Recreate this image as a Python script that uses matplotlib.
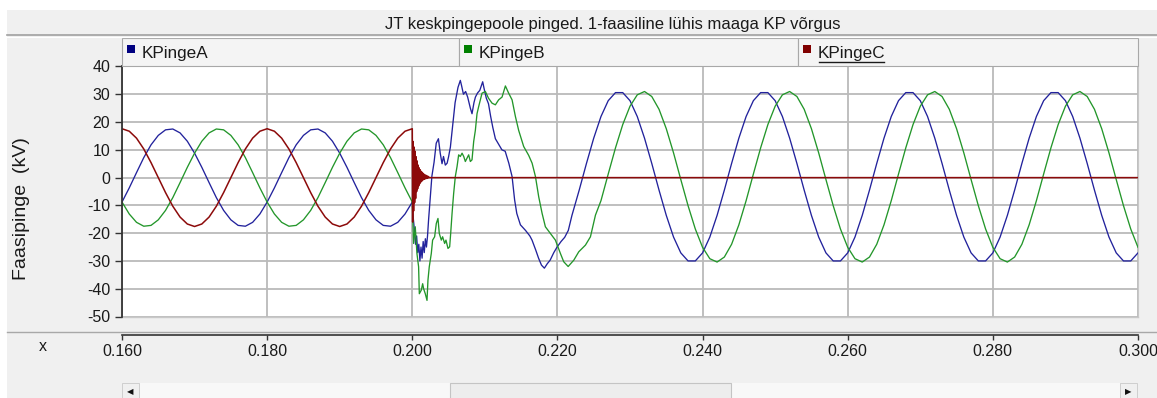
import numpy as np
import matplotlib.pyplot as plt
from matplotlib.patches import Rectangle
from matplotlib.lines import Line2D

plt.rcParams['font.family'] = ['Liberation Sans', 'DejaVu Sans']
plt.rcParams['axes.unicode_minus'] = False

# ---- data (time in ms, voltage in kV) ----
series_names = ["KPingeA", "KPingeB", "KPingeC"]
series_colors = ["#22229c", "#23962a", "#8c0a0a"]
legend_colors = ["#000080", "#008000", "#800000"]

title = "JT keskpingepoole pinged. 1-faasiline lühis maaga KP võrgus"
y_label = "Faasipinge  (kV)"
y_ticks = [-50, -40, -30, -20, -10, 0, 10, 20, 30, 40]
x_ticks = [0.160, 0.180, 0.200, 0.220, 0.240, 0.260, 0.280, 0.300]

# before the fault, 1 ms samples 160..199 ms
t_pre = np.arange(160, 200)
pre_A = [-8.8, -3.7, 1.8, 7.2, 11.8, 15.2, 17.2, 17.5, 16.1, 13.1,
         8.8, 3.7, -1.8, -7.2, -11.8, -15.2, -17.2, -17.5, -16.1, -13.1,
         -8.8, -3.7, 1.8, 7.2, 11.8, 15.2, 17.2, 17.5, 16.1, 13.1,
         8.8, 3.7, -1.8, -7.2, -11.8, -15.2, -17.2, -17.5, -16.1, -13.1]
pre_B = [-8.8, -13.1, -16.1, -17.5, -17.2, -15.2, -11.8, -7.2, -1.8, 3.7,
         8.8, 13.1, 16.1, 17.5, 17.2, 15.2, 11.8, 7.2, 1.8, -3.7,
         -8.8, -13.1, -16.1, -17.5, -17.2, -15.2, -11.8, -7.2, -1.8, 3.7,
         8.8, 13.1, 16.1, 17.5, 17.2, 15.2, 11.8, 7.2, 1.8, -3.7]
pre_C = [17.6, 16.7, 14.2, 10.3, 5.4, 0.0, -5.4, -10.3, -14.2, -16.7,
         -17.6, -16.7, -14.2, -10.3, -5.4, 0.0, 5.4, 10.3, 14.2, 16.7,
         17.6, 16.7, 14.2, 10.3, 5.4, 0.0, -5.4, -10.3, -14.2, -16.7,
         -17.6, -16.7, -14.2, -10.3, -5.4, 0.0, 5.4, 10.3, 14.2, 16.7]

# fault transient, read point by point
tr_A_t = [200.0, 200.15, 200.3, 200.45, 200.6, 200.75, 200.9, 201.05, 201.2, 201.35,
          201.5, 201.65, 201.8, 201.95, 202.1, 202.25, 202.45, 202.7, 203.0, 203.3,
          203.6, 203.85, 204.1, 204.3, 204.55, 204.8, 205.0, 205.25, 205.45, 205.7,
          205.9, 206.3, 206.62, 206.8, 207.05, 207.35, 207.63, 208.0, 208.23, 208.5,
          208.7, 209.0, 209.3, 209.7, 209.9, 210.2, 210.5, 210.8, 211.1, 211.45,
          211.9, 212.35, 212.8, 213.1, 213.3, 213.75, 214.1, 214.4, 214.9, 215.6,
          216.2, 216.5, 217.0, 217.4, 217.8, 218.2, 218.6, 219.0, 219.5, 219.95,
          220.5, 221.0, 221.5]
tr_A_v = [-8.8, -15, -19, -24, -21, -27, -24, -30, -25, -29,
          -23, -27, -22, -25, -21, -15, -8, 0.5, 5.5, 12.4,
          14, 8.8, 5, 7.6, 4.5, 5.2, 7.5, 11, 16, 22,
          27, 32.5, 35, 33, 30, 31, 29, 25, 23, 27,
          29, 30.5, 31.4, 34.5, 32, 28.6, 26.6, 22, 18, 14,
          12, 10, 9.5, 7, 5.2, 0.4, -8, -12.9, -17, -19,
          -21, -22.5, -26, -29, -31.5, -32.6, -31, -29.7, -27, -25,
          -23, -21.5, -19]

tr_B_t = [200.0, 200.18, 200.41, 200.64, 200.87, 200.97, 201.24, 201.43, 201.56, 201.79,
          202.03, 202.16, 202.34, 202.62, 202.8, 203.08, 203.31, 203.54, 203.72, 204.0,
          204.18, 204.46, 204.64, 204.92, 205.15, 205.29, 205.48, 205.7, 205.93, 206.17,
          206.39, 206.62, 206.86, 207.09, 207.31, 207.54, 207.77, 208.0, 208.23, 208.46,
          208.69, 208.92, 209.14, 209.61, 210.07, 210.5, 210.99, 211.45, 211.9, 212.37,
          212.83, 213.28, 213.75, 214.21, 214.66, 215.35, 216.04, 216.51, 216.97, 217.42,
          217.89, 218.34, 219.03, 219.72, 220.41, 220.87, 221.48, 222.26, 222.94, 223.86,
          224.55, 225.24]
tr_B_v = [-8.8, -23.7, -17.7, -27.3, -32.1, -41.8, -40.5, -38.2, -40, -41.8,
          -44.2, -36.9, -32.1, -27.3, -22.5, -21.3, -16.5, -14.7, -20.1, -22.5,
          -21.3, -23.7, -22.5, -25.5, -24.9, -20.1, -12.9, -5.7, 0.4, 4,
          8.2, 7.6, 8.8, 7.6, 5.8, 7, 8.2, 5.8, 6.4, 13,
          17, 23, 25.5, 30.4, 31, 28.6, 26.8, 26.2, 28, 29,
          33, 30.4, 28, 22, 17, 11.2, 8, 5.2, 0.4, -6.9,
          -12.9, -17.7, -20.1, -22.5, -27.3, -30.3, -32, -29.7, -26.7, -24.3,
          -21.3, -13.5]

tr_C_t = [200.0, 200.05, 200.12, 200.18, 200.25, 200.32, 200.39, 200.46, 200.53, 200.6,
          200.67, 200.74, 200.81, 200.88, 200.95, 201.02, 201.1, 201.18, 201.26, 201.34,
          201.42, 201.5, 201.58, 201.66, 201.74, 201.82, 201.9, 201.98, 202.06, 202.14,
          202.22, 202.3, 202.4, 300.0]
tr_C_v = [17.6, -16, 13, -12, 11, -9, 9.5, -7.5, 7.5, -5,
          6, -4, 4.5, -3, 3.5, -2.2, 2.8, -1.6, 2.2, -1.2,
          1.7, -0.8, 1.3, -0.6, 1.0, -0.4, 0.8, -0.3, 0.6, -0.2,
          0.4, 0, 0, 0]

# after the fault, 1 ms samples
t_post_A = np.arange(222, 301)
post_A = [-13.6, -4.5, 5.1, 14.2, 22.0, 27.7,
          30.6, 30.6, 27.7, 22.0, 14.2, 5.1, -4.5, -13.6, -21.4, -27.1,
          -30.0, -30.0, -27.1, -21.4, -13.6, -4.5, 5.1, 14.2, 22.0, 27.7,
          30.6, 30.6, 27.7, 22.0, 14.2, 5.1, -4.5, -13.6, -21.4, -27.1,
          -30.0, -30.0, -27.1, -21.4, -13.6, -4.5, 5.1, 14.2, 22.0, 27.7,
          30.6, 30.6, 27.7, 22.0, 14.2, 5.1, -4.5, -13.6, -21.4, -27.1,
          -30.0, -30.0, -27.1, -21.4, -13.6, -4.5, 5.1, 14.2, 22.0, 27.7,
          30.6, 30.6, 27.7, 22.0, 14.2, 5.1, -4.5, -13.6, -21.4, -27.1,
          -30.0, -30.0, -27.1]
t_post_B = np.arange(226, 301)
post_B = [-8.3, 1.3, 10.7, 19.1, 25.7, 29.8,
          31.0, 29.2, 24.6, 17.6, 8.9, -0.7, -10.1, -18.5, -25.1, -29.2,
          -30.4, -28.6, -24.0, -17.0, -8.3, 1.3, 10.7, 19.1, 25.7, 29.8,
          31.0, 29.2, 24.6, 17.6, 8.9, -0.7, -10.1, -18.5, -25.1, -29.2,
          -30.4, -28.6, -24.0, -17.0, -8.3, 1.3, 10.7, 19.1, 25.7, 29.8,
          31.0, 29.2, 24.6, 17.6, 8.9, -0.7, -10.1, -18.5, -25.1, -29.2,
          -30.4, -28.6, -24.0, -17.0, -8.3, 1.3, 10.7, 19.1, 25.7, 29.8,
          31.0, 29.2, 24.6, 17.6, 8.9, -0.7, -10.1, -18.5, -25.1]

tA = np.concatenate([t_pre, tr_A_t, t_post_A]) / 1000
vA = np.concatenate([pre_A, tr_A_v, post_A])
tB = np.concatenate([t_pre, tr_B_t, t_post_B]) / 1000
vB = np.concatenate([pre_B, tr_B_v, post_B])
tC = np.concatenate([t_pre, tr_C_t]) / 1000
vC = np.concatenate([pre_C, tr_C_v])

# ---- figure, laid out in pixels of the 1157x398 window ----
W, H = 1157, 398
fig = plt.figure(figsize=(W / 100, H / 100), dpi=100)
fig.patch.set_facecolor("white")


def fx(px):
    return px / W


def fy(py):
    return 1 - py / H


def box(x0, y0, x1, y1, fc, ec="none", lw=0.0, z=1):
    fig.add_artist(Rectangle((fx(x0), fy(y1)), fx(x1) - fx(x0), fy(y0) - fy(y1),
                             transform=fig.transFigure, facecolor=fc,
                             edgecolor=ec, linewidth=lw, zorder=z))


def hline(x0, x1, y, color, lw):
    fig.add_artist(Line2D([fx(x0), fx(x1)], [fy(y), fy(y)], color=color, lw=lw))


# window background and title bar (kept under the axes)
box(7, 10, W, H, "#f0f0f0", z=-10)
hline(7, W, 35, "#a0a0a0", 1.2)
hline(7, W, 36.5, "white", 0.8)
fig.text(fx(613), fy(28.5), title, ha="center", va="baseline", fontsize=12,
         color="#1a1a1a")

# legend bar: one cell per series
cell_edges = [122, 458.5, 798, 1138]
for i in range(3):
    x0 = cell_edges[i]
    x1 = cell_edges[i + 1]
    box(x0, 37.5, x1, 66, "#f4f4f4", "#a8a8a8", 0.8)
    box(x0 + 5, 45.5, x0 + 13, 52.5, legend_colors[i])
    fig.text(fx(x0 + 20), fy(58.3), series_names[i], va="baseline",
             fontsize=12.3, color="#1a1a1a")
# selected series is underlined
hline(cell_edges[2] + 21, cell_edges[2] + 86, 61.5, "#1a1a1a", 1.0)

# separator above the x axis
hline(7, W, 332, "#a8a8a8", 1.0)

# main plot
ax = fig.add_axes([fx(122), fy(316.5), fx(1138) - fx(122), fy(66.5) - fy(316.5)])
ax.set_facecolor("white")
ax.plot(tA, vA, color=series_colors[0], lw=0.95)
ax.plot(tB, vB, color=series_colors[1], lw=0.95)
ax.plot(tC, vC, color=series_colors[2], lw=1.1)

ax.set_xlim(0.160, 0.300)
ax.set_ylim(-50, 40)
ax.set_yticks(y_ticks)
ax.set_xticks(x_ticks)
ax.set_xticklabels([f"{v:.3f}" for v in x_ticks])
ax.grid(True, color="#bababa", lw=1.3)
ax.set_axisbelow(True)

ax.spines["top"].set_visible(False)
ax.spines["right"].set_color("#c8c8c8")
ax.spines["left"].set_color("#333333")
ax.spines["left"].set_linewidth(1.3)
ax.spines["bottom"].set_position(("outward", 13.3))
ax.spines["bottom"].set_color("#333333")
ax.spines["bottom"].set_linewidth(1.2)
ax.plot([0, 1], [0, 0], transform=ax.transAxes, color="#c8c8c8", lw=1.0,
        clip_on=False)

ax.tick_params(axis="y", direction="out", length=5, width=1.0, color="#333333",
               pad=3.5, labelsize=11.5, labelcolor="#1a1a1a")
ax.tick_params(axis="x", direction="out", length=3.6, width=1.0, color="#333333",
               pad=3.0, labelsize=11.5, labelcolor="#1a1a1a")

fig.text(fx(21.7), fy(209), y_label, rotation=90, ha="center", va="center",
         fontsize=14, color="#1a1a1a")
fig.text(fx(43), fy(346.5), "x", ha="center", va="center", fontsize=11.5,
         color="#1a1a1a")

# scrollbar at the bottom
box(122, 383, 1138, 400, "#f8f8f8")
box(450, 383, 731, 400, "#ededed", "#c4c4c4", 0.8)
box(122, 383, 139, 400, "#f0f0f0", "#c8c8c8", 0.6)
box(1120, 383, 1137, 400, "#f0f0f0", "#c8c8c8", 0.6)
fig.text(fx(130.5), fy(391.5), "◀", ha="center", va="center", fontsize=6,
         family="DejaVu Sans", color="#111111")
fig.text(fx(1128.5), fy(391.5), "▶", ha="center", va="center", fontsize=6,
         family="DejaVu Sans", color="#111111")

fig.savefig("out.png", dpi=100)
